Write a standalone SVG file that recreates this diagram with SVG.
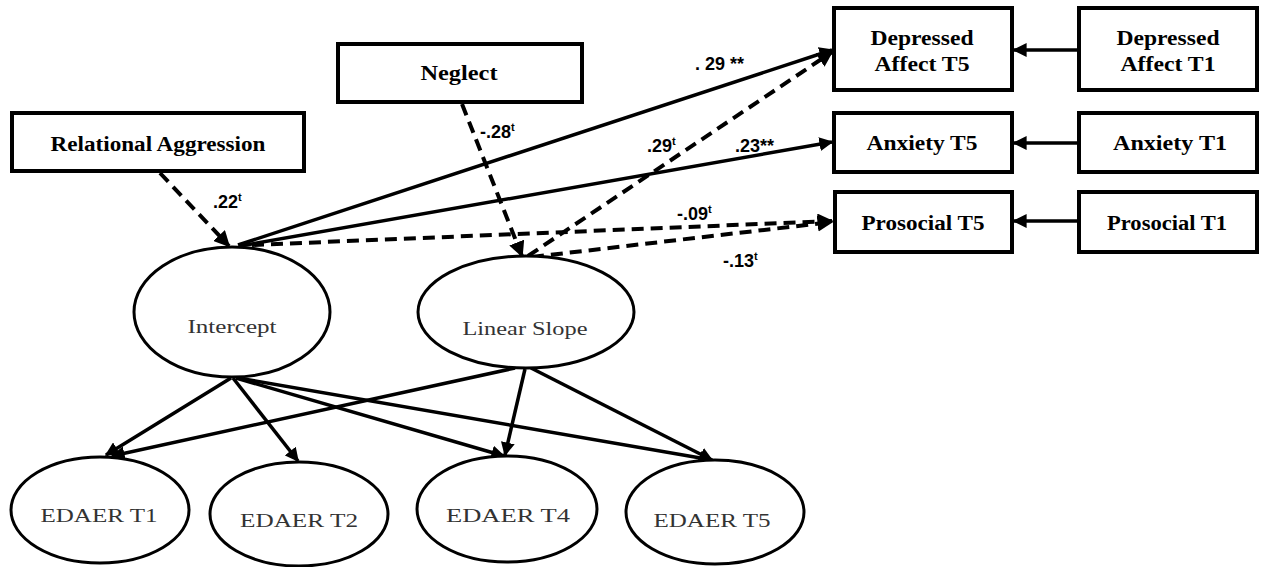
<svg xmlns="http://www.w3.org/2000/svg" width="1264" height="567" viewBox="0 0 1264 567">
  <style>
    .box { fill: #fff; stroke: #000; stroke-width: 4; }
    .ell { fill: #fff; stroke: #000; stroke-width: 3; }
    .btxt { font-family: "Liberation Serif", serif; font-weight: bold; font-size: 20px; text-anchor: middle; fill: #000; }
    .etxt { font-family: "Liberation Serif", serif; font-size: 19px; text-anchor: middle; fill: #333; }
    .lbl { font-family: "Liberation Sans", sans-serif; font-weight: bold; font-size: 18px; fill: #000; }
    .sup { font-size: 11px; }
    .solid { fill: none; stroke: #000; stroke-width: 3.5; marker-end: url(#ah); }
    .dash { fill: none; stroke: #000; stroke-width: 4; stroke-dasharray: 12 7; marker-end: url(#ah); }
  </style>
  <defs>
    <marker id="ah" viewBox="0 0 10 10" refX="9" refY="5" markerWidth="4" markerHeight="4" orient="auto" markerUnits="strokeWidth">
      <path d="M0,0 L10,5 L0,10 z" fill="#000"/>
    </marker>
  </defs>
  <rect width="1264" height="567" fill="#fff"/>

  <g id="connectors">
    <!-- predictors to growth factors -->
    <path class="dash" d="M160,173 L229,246"/>
    <path class="dash" d="M462,104 L522,256"/>
    <!-- growth factors to outcomes -->
    <path class="solid" d="M238,245 L832,50"/>
    <path class="solid" d="M240,246 L832,142"/>
    <path class="dash" d="M252,245 L832,221"/>
    <path class="dash" d="M528,256 L832,52"/>
    <path class="dash" d="M532,257 L832,222"/>
    <!-- T1 to T5 stability paths -->
    <path class="solid" d="M1078,50 L1014,50"/>
    <path class="solid" d="M1078,143 L1014,143"/>
    <path class="solid" d="M1078,221 L1014,221"/>
    <!-- loadings -->
    <path class="solid" d="M231,378 L106,455"/>
    <path class="solid" d="M233,378 L298,461"/>
    <path class="solid" d="M236,378 L504,456"/>
    <path class="solid" d="M238,378 L712,460"/>
    <path class="solid" d="M515,368 L112,456"/>
    <path class="solid" d="M525,369 L505,455"/>
    <path class="solid" d="M531,368 L712,460"/>
  </g>

  <g id="relational-aggression">
    <rect class="box" x="12" y="113" width="292" height="58"/>
    <text class="btxt" x="158" y="151" textLength="215" lengthAdjust="spacingAndGlyphs">Relational Aggression</text>
  </g>
  <g id="neglect">
    <rect class="box" x="338" y="44" width="244" height="58"/>
    <text class="btxt" x="459" y="80" textLength="77" lengthAdjust="spacingAndGlyphs">Neglect</text>
  </g>
  <g id="intercept">
    <ellipse class="ell" cx="232" cy="312" rx="98" ry="65"/>
    <text class="etxt" x="232" y="333" textLength="89" lengthAdjust="spacingAndGlyphs">Intercept</text>
  </g>
  <g id="linear-slope">
    <ellipse class="ell" cx="526" cy="312" rx="108" ry="56"/>
    <text class="etxt" x="525" y="335" textLength="125" lengthAdjust="spacingAndGlyphs">Linear Slope</text>
  </g>
  <g id="edaer-t1">
    <ellipse class="ell" cx="100" cy="510" rx="89" ry="53"/>
    <text class="etxt" x="99" y="522" textLength="117" lengthAdjust="spacingAndGlyphs">EDAER T1</text>
  </g>
  <g id="edaer-t2">
    <ellipse class="ell" cx="299" cy="514" rx="89" ry="52"/>
    <text class="etxt" x="299" y="527" textLength="118" lengthAdjust="spacingAndGlyphs">EDAER T2</text>
  </g>
  <g id="edaer-t4">
    <ellipse class="ell" cx="507" cy="509" rx="90" ry="53"/>
    <text class="etxt" x="508" y="522" textLength="124" lengthAdjust="spacingAndGlyphs">EDAER T4</text>
  </g>
  <g id="edaer-t5">
    <ellipse class="ell" cx="715" cy="512" rx="89" ry="52"/>
    <text class="etxt" x="712" y="527" textLength="117" lengthAdjust="spacingAndGlyphs">EDAER T5</text>
  </g>

  <g id="depressed-t5">
    <rect class="box" x="834" y="8" width="178" height="82"/>
    <text class="btxt" x="922" y="45" textLength="103" lengthAdjust="spacingAndGlyphs">Depressed</text>
    <text class="btxt" x="922" y="71" textLength="95" lengthAdjust="spacingAndGlyphs">Affect T5</text>
  </g>
  <g id="depressed-t1">
    <rect class="box" x="1079" y="8" width="178" height="82"/>
    <text class="btxt" x="1168" y="45" textLength="103" lengthAdjust="spacingAndGlyphs">Depressed</text>
    <text class="btxt" x="1168" y="71" textLength="95" lengthAdjust="spacingAndGlyphs">Affect T1</text>
  </g>
  <g id="anxiety-t5">
    <rect class="box" x="834" y="113" width="178" height="59"/>
    <text class="btxt" x="922" y="150" textLength="111" lengthAdjust="spacingAndGlyphs">Anxiety T5</text>
  </g>
  <g id="anxiety-t1">
    <rect class="box" x="1079" y="113" width="178" height="59"/>
    <text class="btxt" x="1170" y="150" textLength="114" lengthAdjust="spacingAndGlyphs">Anxiety T1</text>
  </g>
  <g id="prosocial-t5">
    <rect class="box" x="835" y="192" width="177" height="60"/>
    <text class="btxt" x="923" y="230" textLength="123" lengthAdjust="spacingAndGlyphs">Prosocial T5</text>
  </g>
  <g id="prosocial-t1">
    <rect class="box" x="1079" y="192" width="178" height="60"/>
    <text class="btxt" x="1167" y="230" textLength="120" lengthAdjust="spacingAndGlyphs">Prosocial T1</text>
  </g>

  <g id="labels">
    <text class="lbl" x="213" y="208">.22<tspan class="sup" dy="-7">t</tspan></text>
    <text class="lbl" x="480" y="138">-.28<tspan class="sup" dy="-7">t</tspan></text>
    <text class="lbl" x="695" y="70">. 29 **</text>
    <text class="lbl" x="647" y="152">.29<tspan class="sup" dy="-7">t</tspan></text>
    <text class="lbl" x="735" y="152">.23**</text>
    <text class="lbl" x="677" y="220">-.09<tspan class="sup" dy="-7">t</tspan></text>
    <text class="lbl" x="723" y="267">-.13<tspan class="sup" dy="-7">t</tspan></text>
  </g>
</svg>
